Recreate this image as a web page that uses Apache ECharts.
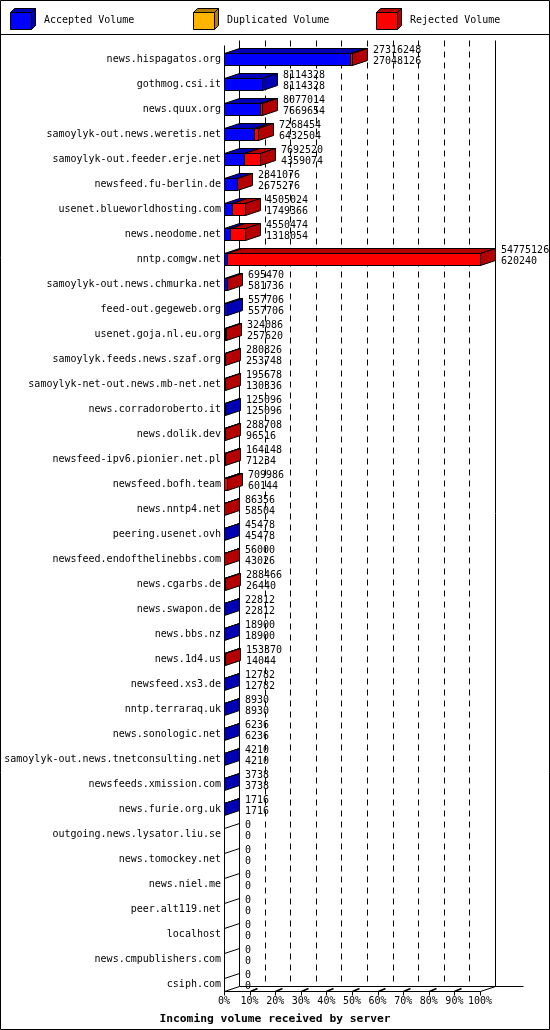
<!DOCTYPE html>
<html><head><meta charset="utf-8">
<script src="https://cdn.jsdelivr.net/npm/echarts@6/dist/echarts.min.js"></script>
<style>html,body{margin:0;padding:0;background:#fff}#c{width:550px;height:1030px}</style>
</head><body><div id="c"></div><script>
const hosts = [
  'news.hispagatos.org','gothmog.csi.it','news.quux.org','samoylyk-out.news.weretis.net',
  'samoylyk-out.feeder.erje.net','newsfeed.fu-berlin.de','usenet.blueworldhosting.com','news.neodome.net',
  'nntp.comgw.net','samoylyk-out.news.chmurka.net','feed-out.gegeweb.org','usenet.goja.nl.eu.org',
  'samoylyk.feeds.news.szaf.org','samoylyk-net-out.news.mb-net.net','news.corradoroberto.it','news.dolik.dev',
  'newsfeed-ipv6.pionier.net.pl','newsfeed.bofh.team','news.nntp4.net','peering.usenet.ovh',
  'newsfeed.endofthelinebbs.com','news.cgarbs.de','news.swapon.de','news.bbs.nz',
  'news.1d4.us','newsfeed.xs3.de','nntp.terraraq.uk','news.sonologic.net',
  'samoylyk-out.news.tnetconsulting.net','newsfeeds.xmission.com','news.furie.org.uk','outgoing.news.lysator.liu.se',
  'news.tomockey.net','news.niel.me','peer.alt119.net','localhost',
  'news.cmpublishers.com','csiph.com'
];
const totalVolume = [
  27316248, 8114328, 8077014, 7268454,
  7692520, 2841076, 4505024, 4550474,
  54775126, 695470, 557706, 324086,
  280826, 195678, 125096, 288708,
  164148, 709986, 86356, 45478,
  56000, 288466, 22812, 18900,
  153370, 12782, 8930, 6236,
  4210, 3738, 1716, 0,
  0, 0, 0, 0,
  0, 0
];
const acceptedVolume = [
  27048126, 8114328, 7669654, 6432504,
  4359074, 2675276, 1749366, 1318054,
  620240, 581736, 557706, 257620,
  253748, 130336, 125096, 96516,
  71234, 60144, 58504, 45478,
  43026, 26440, 22812, 18900,
  14044, 12782, 8930, 6236,
  4210, 3738, 1716, 0,
  0, 0, 0, 0,
  0, 0
];
const duplicatedVolume = [
  0,0,0,0, 0,0,0,0, 0,0,0,0, 0,0,0,0, 0,0,0,0,
  0,0,0,0, 0,0,0,0, 0,0,0,0, 0,0,0,0, 0,0
];
const xTickLabels = ['0%','10%','20%','30%','40%','50%','60%','70%','80%','90%','100%'];
const legendNames = ['Accepted Volume','Duplicated Volume','Rejected Volume'];
const axisTitle = 'Incoming volume received by server';

const FRONT = ['#0000ff','#ffb400','#ff0000'];
const DARK  = ['#0000b4','#b47e00','#b40000'];
const FONT = '10px "DejaVu Sans Mono", monospace';
const DX = 15, DY = 5;

const maxTotal = Math.max(...totalVolume);
const pct = v => v / maxTotal * 100;
const barData = hosts.map((h, i) => {
  const rej = totalVolume[i] - acceptedVolume[i] - duplicatedVolume[i];
  return [i, pct(acceptedVolume[i]), pct(duplicatedVolume[i]), pct(rej)];
});

const s = v => Math.round(v) + 0.5;

function renderBar(params, api) {
  const idx = api.value(0);
  const segs = [api.value(1), api.value(2), api.value(3)];
  const base = api.coord([0, idx]);
  const cy = Math.round(base[1]);
  const top = cy - 6 + 0.5, bot = cy + 6 + 0.5;
  const x0 = s(base[0]);
  let xs = x0, xe = x0, cum = 0, lastDark = null;
  const ch = [];
  for (let k = 0; k < 3; k++) {
    if (segs[k] > 0) {
      cum += segs[k];
      xe = s(api.coord([cum, idx])[0]);
      ch.push({type:'polygon', shape:{points:[[xs,top],[xe,top],[xe,bot],[xs,bot]]},
        style:{fill:FRONT[k], stroke:'#000', lineWidth:1}});
      ch.push({type:'polygon', shape:{points:[[xs,top],[xe,top],[xe+DX,top-DY],[xs+DX,top-DY]]},
        style:{fill:DARK[k], stroke:'#000', lineWidth:1}});
      lastDark = DARK[k];
      xs = xe;
    }
  }
  if (lastDark) {
    ch.push({type:'polygon', shape:{points:[[xe,top],[xe,bot],[xe+DX,bot-DY],[xe+DX,top-DY]]},
      style:{fill:lastDark, stroke:'#000', lineWidth:1}});
  } else {
    ch.push({type:'line', shape:{x1:x0,y1:top,x2:x0+DX,y2:top-DY}, style:{stroke:'#000', lineWidth:1}});
  }
  const tx = Math.round(xe) + 20;
  ch.push({type:'text', style:{text:String(totalVolume[idx]), x:tx, y:cy-9, font:FONT, fill:'#000', align:'left', verticalAlign:'middle'}});
  ch.push({type:'text', style:{text:String(acceptedVolume[idx]), x:tx, y:cy+2, font:FONT, fill:'#000', align:'left', verticalAlign:'middle'}});
  return {type:'group', children: ch};
}

function renderFrame(params, api) {
  const n = hosts.length;
  const p0 = api.coord([0, 0]);
  const pN = api.coord([0, n - 1]);
  const x0 = s(p0[0]);
  const x100 = s(api.coord([100, 0])[0]);
  const fy = Math.round(pN[1]) + 7 + 0.5;
  const by = fy - DY;
  const backTop = Math.round(p0[1]) - 19 + 0.5;
  const frontTop = backTop + DY;
  const ch = [];
  const L = (x1,y1,x2,y2,extra) => ch.push({type:'line', shape:{x1,y1,x2,y2}, style:Object.assign({stroke:'#000', lineWidth:1}, extra||{})});
  // dashed back gridlines
  for (let p = 10; p < 100; p += 10) {
    const x = s(api.coord([p, 0])[0]) + DX;
    L(x, backTop, x, by, {lineDash:[6,5]});
  }
  // back wall solid lines
  L(x0 + DX, backTop, x0 + DX, by);
  L(x100 + DX, backTop, x100 + DX, by);
  // front axis
  L(x0, frontTop, x0, fy);
  // floor
  L(x0, fy, x100, fy);
  L(x0, fy, x0 + DX, by);
  L(x100, fy, x100 + DX, by);
  L(x0 + DX, by, x100 + DX + 28, by);
  // ticks
  for (let p = 0; p <= 100; p += 10) {
    const x = s(api.coord([p, 0])[0]);
    L(x, fy, x, fy + 4);
    if (p > 0 && p < 100) L(x, fy, x + 7, fy - 3, {lineWidth:1.5});
  }
  return {type:'group', children: ch};
}

function legendIcon(x, k) {
  const l = x + 0.5, r = x + 21.5, t = 12.5, b = 29.5, d = 4;
  return [
    {type:'polygon', shape:{points:[[l,t],[r,t],[r,b],[l,b]]}, style:{fill:FRONT[k], stroke:'#000', lineWidth:1}},
    {type:'polygon', shape:{points:[[l,t],[r,t],[r+d,t-d],[l+d,t-d]]}, style:{fill:DARK[k], stroke:'#000', lineWidth:1}},
    {type:'polygon', shape:{points:[[r,t],[r,b],[r+d,b-d],[r+d,t-d]]}, style:{fill:DARK[k], stroke:'#000', lineWidth:1}},
    {type:'text', style:{text:legendNames[k], x:x + 34, y:20, font:FONT, fill:'#000', align:'left', verticalAlign:'middle'}}
  ];
}

const graphics = [
  {type:'rect', shape:{x:0.5, y:0.5, width:549, height:1029}, style:{fill:'none', stroke:'#000', lineWidth:1}},
  {type:'line', shape:{x1:0, y1:34.5, x2:550, y2:34.5}, style:{stroke:'#000', lineWidth:1}}
].concat(legendIcon(10,0), legendIcon(193,1), legendIcon(376,2));

const chart = echarts.init(document.getElementById('c'), null, {renderer:'canvas'});
chart.setOption({
  animation: false,
  backgroundColor: '#fff',
  title: {
    text: axisTitle, left: 'center', top: 1009,
    textStyle: {fontFamily:'"DejaVu Sans Mono", monospace', fontWeight:'bold', fontSize:11.3, color:'#000'}
  },
  grid: {left: 224, width: 256, top: 46.5, height: 950},
  xAxis: {
    type: 'value', min: 0, max: 100, interval: 10,
    axisLine: {show:false}, axisTick: {show:false}, splitLine: {show:false},
    axisLabel: {margin: 0, color:'#000', fontSize:10, fontFamily:'"DejaVu Sans Mono", monospace',
      formatter: v => xTickLabels[Math.round(v / 10)]}
  },
  yAxis: {
    type: 'category', data: hosts, inverse: true,
    axisLine: {show:false}, axisTick: {show:false}, splitLine: {show:false},
    axisLabel: {interval: 0, margin: 3, color:'#000', fontSize:10, fontFamily:'"DejaVu Sans Mono", monospace'}
  },
  graphic: {elements: graphics},
  series: [
    {type:'custom', name:'frame', coordinateSystem:'cartesian2d', clip:false, z:1, silent:true,
      data: [[0, 0]], encode: {x: 1, y: 0}, renderItem: renderFrame},
    {type:'custom', name:'volume', coordinateSystem:'cartesian2d', clip:false, z:2, silent:true,
      data: barData, encode: {x: 1, y: 0}, renderItem: renderBar}
  ]
});
</script></body></html>
